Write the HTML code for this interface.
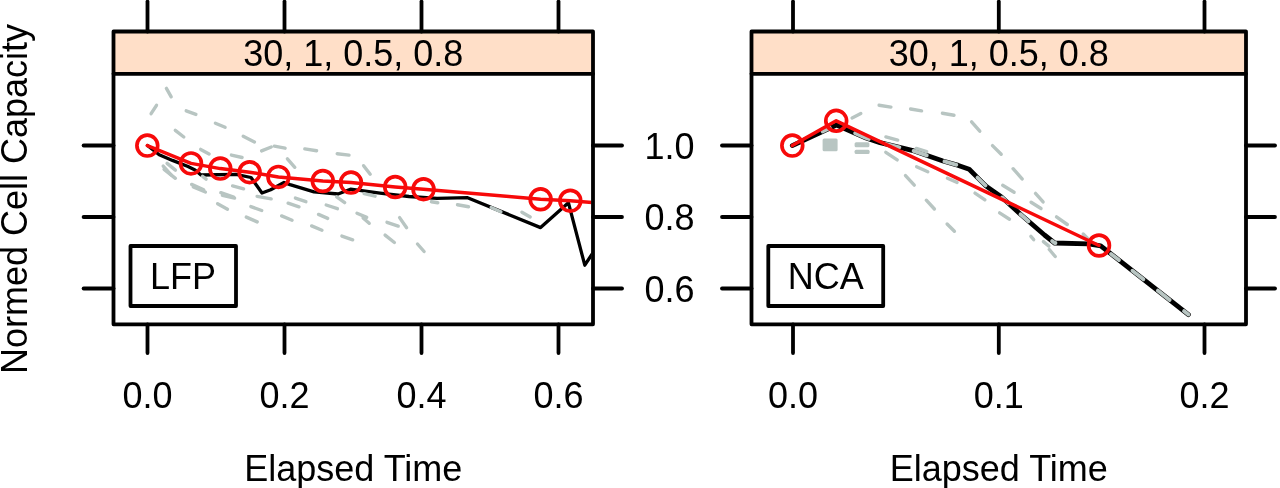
<!DOCTYPE html>
<html><head><meta charset="utf-8"><style>
html,body{margin:0;padding:0;background:#fff;}
svg{display:block;filter:blur(0.6px);}
</style></head><body>
<svg width="1280" height="488" viewBox="0 0 1280 488">
<rect width="1280" height="488" fill="#fff"/>
<defs><clipPath id="cl"><rect x="115" y="74.5" width="476.5" height="248.3"/></clipPath><clipPath id="cr"><rect x="753" y="74.5" width="491.5" height="248.3"/></clipPath></defs>
<rect x="113.5" y="31.5" width="479.5" height="41.5" fill="#FFDFC8"/>
<rect x="751.5" y="31.5" width="494.5" height="41.5" fill="#FFDFC8"/>
<g clip-path="url(#cl)" fill="none" stroke-linejoin="round" stroke-linecap="round">
<polyline points="147.5,145.5 159.2,154.7 172.5,160.4 188.0,166.5 195.0,170.0 201.0,175.0 236.0,174.3 251.0,177.5 262.0,193.0 270.7,189.7 284.0,182.5 290.0,184.6 314.0,191.8 338.0,194.0 350.5,189.2 380.0,193.2 409.0,196.5 437.0,198.4 467.6,197.7 540.6,227.6 568.4,202.7 584.8,265.2 598.0,245.0" stroke="#000" stroke-width="3.3"/>
<g stroke="#B8C5C2" stroke-width="3.4">
<line x1="151.1" y1="113.7" x2="156.5" y2="105.3"/>
<line x1="166.4" y1="88.4" x2="171.2" y2="96.8"/>
<line x1="186.2" y1="110.8" x2="195.9" y2="114.4"/>
<line x1="215.4" y1="123.2" x2="225.1" y2="127.3"/>
<line x1="175.3" y1="130.4" x2="183.8" y2="137.0"/>
<line x1="200.7" y1="149.4" x2="209.1" y2="153.9"/>
<line x1="164.1" y1="169.3" x2="175.4" y2="178.3"/>
<line x1="167.1" y1="163.4" x2="175.4" y2="170.1"/>
<line x1="163.2" y1="166.1" x2="171.1" y2="174.9"/>
<line x1="191.6" y1="184.4" x2="203.7" y2="189.9"/>
<line x1="193.3" y1="187.0" x2="205.4" y2="192.0"/>
<line x1="220.8" y1="192.7" x2="233.7" y2="197.1"/>
<line x1="222.4" y1="195.3" x2="234.6" y2="198.1"/>
<line x1="217.6" y1="203.7" x2="227.5" y2="209.2"/>
<line x1="202.6" y1="176.4" x2="206.1" y2="179.1"/>
<line x1="231.4" y1="155.1" x2="242.1" y2="157.5"/>
<line x1="243.2" y1="136.2" x2="254.4" y2="141.9"/>
<line x1="261.6" y1="150.9" x2="271.3" y2="147.0"/>
<line x1="274.4" y1="146.2" x2="285.1" y2="148.2"/>
<line x1="304.8" y1="148.9" x2="316.6" y2="150.8"/>
<line x1="337.2" y1="153.8" x2="349.0" y2="155.1"/>
<line x1="363.6" y1="165.7" x2="370.2" y2="174.2"/>
<line x1="287.4" y1="158.8" x2="294.8" y2="167.3"/>
<line x1="232.6" y1="185.9" x2="243.6" y2="188.8"/>
<line x1="257.1" y1="196.4" x2="271.2" y2="198.9"/>
<line x1="250.9" y1="206.6" x2="261.7" y2="210.5"/>
<line x1="246.3" y1="217.1" x2="257.2" y2="221.9"/>
<line x1="288.1" y1="203.2" x2="299.0" y2="206.8"/>
<line x1="295.4" y1="198.1" x2="305.9" y2="201.7"/>
<line x1="281.6" y1="215.9" x2="292.1" y2="220.2"/>
<line x1="318.5" y1="214.4" x2="327.7" y2="218.4"/>
<line x1="326.2" y1="205.0" x2="337.4" y2="208.7"/>
<line x1="336.7" y1="196.9" x2="344.7" y2="202.6"/>
<line x1="311.6" y1="225.9" x2="322.0" y2="230.2"/>
<line x1="341.9" y1="236.1" x2="352.7" y2="239.8"/>
<line x1="357.0" y1="213.2" x2="366.7" y2="217.4"/>
<line x1="363.1" y1="217.9" x2="369.2" y2="223.3"/>
<line x1="387.0" y1="222.3" x2="398.2" y2="226.1"/>
<line x1="399.6" y1="217.6" x2="406.6" y2="227.7"/>
<line x1="385.1" y1="235.1" x2="394.4" y2="242.5"/>
<line x1="417.5" y1="244.0" x2="424.1" y2="251.5"/>
<line x1="364.1" y1="193.7" x2="375.1" y2="196.2"/>
<line x1="457.5" y1="204.8" x2="468.6" y2="206.7"/>
<line x1="491.2" y1="207.5" x2="500.9" y2="211.7"/>
<line x1="521.9" y1="212.2" x2="530.2" y2="216.9"/>
<line x1="431.4" y1="201.7" x2="437.8" y2="202.8"/>
</g>
<polyline points="147.3,145.6 191.0,163.4 220.3,168.6 249.6,172.2 278.4,176.9 322.8,181.0 351.0,182.6 395.2,187.0 423.5,189.2 540.6,199.3 570.3,200.7 600.0,203.0" stroke="#F70A0A" stroke-width="3.5"/>
<g stroke="#F70A0A" stroke-width="3.7">
<circle cx="147.3" cy="145.6" r="10.4"/>
<circle cx="191" cy="163.4" r="10.4"/>
<circle cx="220.3" cy="168.6" r="10.4"/>
<circle cx="249.6" cy="172.2" r="10.4"/>
<circle cx="278.4" cy="176.9" r="10.4"/>
<circle cx="322.8" cy="181" r="10.4"/>
<circle cx="351" cy="182.6" r="10.4"/>
<circle cx="395.2" cy="187" r="10.4"/>
<circle cx="423.5" cy="189.2" r="10.4"/>
<circle cx="540.6" cy="199.3" r="10.4"/>
<circle cx="570.3" cy="200.7" r="10.4"/>
</g></g>
<g clip-path="url(#cr)" fill="none" stroke-linejoin="round" stroke-linecap="round">
<polyline points="792.3,145.6 836.5,125.0 866.0,138.0 880.0,142.6 912.0,150.3 943.0,161.0 958.4,165.4 969.2,169.2 975.3,175.4 986.1,186.1 1001.5,196.9 1019.9,213.8 1044.5,235.0 1054.6,243.0 1088.4,243.8 1100.7,245.8 1188.4,314.6" stroke="#000" stroke-width="4.8"/>
<g stroke="#B8C5C2" stroke-width="3.4">
<line x1="852.1" y1="118.0" x2="860.8" y2="113.6"/>
<line x1="879.1" y1="105.2" x2="890.9" y2="107.1"/>
<line x1="910.6" y1="109.0" x2="921.6" y2="110.9"/>
<line x1="942.4" y1="113.2" x2="954.0" y2="115.2"/>
<line x1="971.6" y1="121.8" x2="979.8" y2="131.2"/>
<line x1="992.5" y1="145.6" x2="1001.2" y2="154.3"/>
<line x1="1013.1" y1="168.7" x2="1022.1" y2="178.9"/>
<line x1="1035.5" y1="193.4" x2="1043.1" y2="201.9"/>
<line x1="1056.5" y1="216.9" x2="1067.3" y2="224.5"/>
<line x1="1083.2" y1="234.0" x2="1087.4" y2="238.2"/>
<line x1="885.9" y1="136.9" x2="897.7" y2="140.1"/>
<line x1="916.3" y1="148.4" x2="926.7" y2="151.6"/>
<line x1="885.8" y1="152.3" x2="897.2" y2="159.9"/>
<line x1="916.6" y1="166.7" x2="927.8" y2="171.7"/>
<line x1="947.4" y1="178.3" x2="957.1" y2="182.4"/>
<line x1="975.0" y1="193.1" x2="984.9" y2="199.9"/>
<line x1="999.6" y1="212.9" x2="1009.5" y2="219.2"/>
<line x1="1030.9" y1="236.4" x2="1033.7" y2="239.6"/>
<line x1="1043.4" y1="241.6" x2="1048.9" y2="246.1"/>
<line x1="1049.3" y1="249.5" x2="1055.2" y2="256.5"/>
<line x1="905.5" y1="175.6" x2="914.3" y2="185.1"/>
<line x1="926.3" y1="200.2" x2="934.4" y2="209.0"/>
<line x1="947.1" y1="224.0" x2="954.4" y2="231.2"/>
<line x1="1002.7" y1="185.3" x2="1014.1" y2="192.3"/>
<line x1="1031.1" y1="202.2" x2="1041.0" y2="208.5"/>
</g>
<rect x="822.6" y="138.6" width="15.0" height="12.6" rx="1.5" fill="#B8C5C2" stroke="none"/>
<rect x="854.6" y="142.2" width="14.8" height="5.0" rx="1.5" fill="#B8C5C2" stroke="none"/>
<rect x="854.6" y="149.8" width="15.0" height="4.2" rx="1.5" fill="#B8C5C2" stroke="none"/>
<polyline points="822.6,131.5 829.9,128.1" stroke="#B8C5C2" stroke-width="3.8"/>
<polyline points="855.1,133.2 866.0,138.0 868.9,139.0" stroke="#B8C5C2" stroke-width="3.8"/>
<polyline points="885.6,143.9 899.4,147.3" stroke="#B8C5C2" stroke-width="3.8"/>
<polyline points="913.6,150.9 926.8,155.4" stroke="#B8C5C2" stroke-width="3.8"/>
<polyline points="944.4,161.4 956.4,164.8" stroke="#B8C5C2" stroke-width="3.8"/>
<polyline points="977.5,177.6 985.5,185.5" stroke="#B8C5C2" stroke-width="3.8"/>
<polyline points="1002.1,197.5 1008.5,203.3" stroke="#B8C5C2" stroke-width="3.8"/>
<polyline points="1020.5,214.3 1028.5,221.2" stroke="#B8C5C2" stroke-width="3.8"/>
<polyline points="1052.1,241.0 1054.6,243.0 1055.5,243.0" stroke="#B8C5C2" stroke-width="3.8"/>
<polyline points="1111.1,254.0 1118.9,260.1" stroke="#B8C5C2" stroke-width="3.8"/>
<polyline points="1132.4,270.7 1143.4,279.3" stroke="#B8C5C2" stroke-width="3.8"/>
<polyline points="1157.8,290.6 1169.7,299.9" stroke="#B8C5C2" stroke-width="3.8"/>
<polyline points="1184.0,311.1 1188.4,314.6" stroke="#B8C5C2" stroke-width="3.8"/>
<polyline points="792.3,145.6 836.2,120.8 1099.0,245.5" stroke="#F70A0A" stroke-width="3.5"/>
<g stroke="#F70A0A" stroke-width="3.7">
<circle cx="792.3" cy="145.6" r="10.4"/>
<circle cx="836.2" cy="120.8" r="10.4"/>
<circle cx="1099" cy="245.5" r="10.4"/>
</g></g>
<g fill="none" stroke="#000" stroke-width="3.8" stroke-linecap="round" stroke-linejoin="round">
<rect x="113.5" y="31.5" width="479.5" height="292.8"/>
<line x1="113.5" y1="73.8" x2="593" y2="73.8"/>
<rect x="751.5" y="31.5" width="494.5" height="292.8"/>
<line x1="751.5" y1="73.8" x2="1246" y2="73.8"/>
<line x1="147.5" y1="1.6" x2="147.5" y2="31.5"/>
<line x1="147.5" y1="324.3" x2="147.5" y2="353"/>
<line x1="284.5" y1="1.6" x2="284.5" y2="31.5"/>
<line x1="284.5" y1="324.3" x2="284.5" y2="353"/>
<line x1="421.5" y1="1.6" x2="421.5" y2="31.5"/>
<line x1="421.5" y1="324.3" x2="421.5" y2="353"/>
<line x1="558.5" y1="1.6" x2="558.5" y2="31.5"/>
<line x1="558.5" y1="324.3" x2="558.5" y2="353"/>
<line x1="793.0" y1="1.6" x2="793.0" y2="31.5"/>
<line x1="793.0" y1="324.3" x2="793.0" y2="353"/>
<line x1="998.8" y1="1.6" x2="998.8" y2="31.5"/>
<line x1="998.8" y1="324.3" x2="998.8" y2="353"/>
<line x1="1204.5" y1="1.6" x2="1204.5" y2="31.5"/>
<line x1="1204.5" y1="324.3" x2="1204.5" y2="353"/>
<line x1="83.6" y1="145.5" x2="113.5" y2="145.5"/>
<line x1="593" y1="145.5" x2="622" y2="145.5"/>
<line x1="722" y1="145.5" x2="751.5" y2="145.5"/>
<line x1="1246" y1="145.5" x2="1275" y2="145.5"/>
<line x1="83.6" y1="217.0" x2="113.5" y2="217.0"/>
<line x1="593" y1="217.0" x2="622" y2="217.0"/>
<line x1="722" y1="217.0" x2="751.5" y2="217.0"/>
<line x1="1246" y1="217.0" x2="1275" y2="217.0"/>
<line x1="83.6" y1="288.5" x2="113.5" y2="288.5"/>
<line x1="593" y1="288.5" x2="622" y2="288.5"/>
<line x1="722" y1="288.5" x2="751.5" y2="288.5"/>
<line x1="1246" y1="288.5" x2="1275" y2="288.5"/>
<rect x="130.5" y="246" width="105.5" height="60"/>
<rect x="768.3" y="246" width="114.9" height="60"/>
</g>
<g font-family="Liberation Sans, sans-serif" font-size="36" fill="#000" text-anchor="middle">
<text x="353.25" y="66">30, 1, 0.5, 0.8</text>
<text x="998.75" y="66">30, 1, 0.5, 0.8</text>
<text x="147.5" y="408">0.0</text>
<text x="284.5" y="408">0.2</text>
<text x="421.5" y="408">0.4</text>
<text x="558.5" y="408">0.6</text>
<text x="793.0" y="408">0.0</text>
<text x="998.8" y="408">0.1</text>
<text x="1204.5" y="408">0.2</text>
<text x="669.5" y="158.5">1.0</text>
<text x="669.5" y="230.0">0.8</text>
<text x="669.5" y="301.5">0.6</text>
<text x="353.25" y="481">Elapsed Time</text>
<text x="998.75" y="481">Elapsed Time</text>
<text x="183" y="289">LFP</text>
<text x="825.8" y="289">NCA</text>
<text transform="translate(26.6,199) rotate(-90)" x="0" y="0">Normed Cell Capacity</text>
</g>
</svg>
</body></html>
